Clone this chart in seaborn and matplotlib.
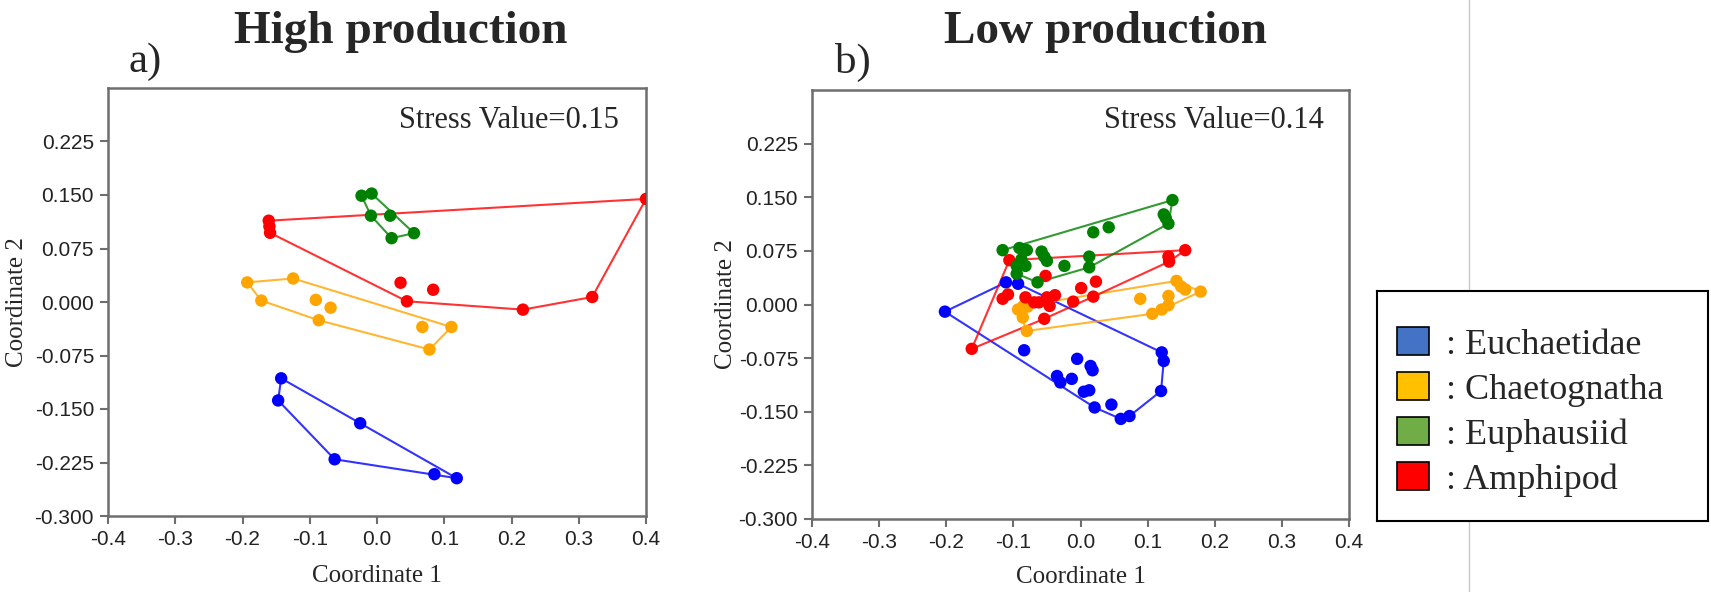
import numpy as np
import pandas as pd
import matplotlib
matplotlib.use("Agg")
import matplotlib.pyplot as plt
from matplotlib.patches import Patch
from matplotlib.lines import Line2D
import seaborn as sns

# ---------------- data ----------------
groups = ["Euchaetidae", "Chaetognatha", "Amphipod", "Euphausiid"]
legend_order = ["Euchaetidae", "Chaetognatha", "Euphausiid", "Amphipod"]
point_colors = {"Euchaetidae": "#0000FF", "Chaetognatha": "#FFA500",
                "Euphausiid": "#008000", "Amphipod": "#FF0000"}
legend_colors = {"Euchaetidae": "#4472C4", "Chaetognatha": "#FFC000",
                 "Euphausiid": "#70AD47", "Amphipod": "#FF0000"}

# High production (panel a)
hi_euch_x = [-0.1425, -0.147, -0.025, -0.063, 0.0853, 0.1186]
hi_euch_y = [-0.107, -0.138, -0.170, -0.2205, -0.2414, -0.247]
hi_chae_x = [-0.193, -0.1247, -0.172, -0.091, -0.069, -0.0866, 0.0674, 0.1106, 0.078]
hi_chae_y = [0.0275, 0.033, 0.002, 0.003, -0.008, -0.0256, -0.035, -0.035, -0.0666]
hi_euph_x = [-0.023, -0.008, -0.009, 0.0196, 0.055, 0.0217]
hi_euph_y = [0.149, 0.152, 0.121, 0.121, 0.0965, 0.0895]
hi_amph_x = [-0.161, -0.160, -0.159, 0.400, 0.320, 0.217, 0.0445, 0.035, 0.0835]
hi_amph_y = [0.114, 0.106, 0.097, 0.1445, 0.007, -0.0107, 0.001, 0.027, 0.0172]

# Low production (panel b)
lo_euch_x = [-0.202, -0.111, -0.093, -0.084, -0.005, 0.015, 0.018, -0.035, -0.030, -0.013,
             0.005, 0.013, 0.021, 0.046, 0.060, 0.073, 0.120, 0.124, 0.121]
lo_euch_y = [-0.010, 0.031, 0.029, -0.064, -0.076, -0.086, -0.092, -0.100, -0.109, -0.104,
             -0.122, -0.120, -0.144, -0.140, -0.160, -0.156, -0.121, -0.079, -0.067]
lo_chae_x = [-0.093, -0.085, -0.079, -0.086, -0.080, 0.089, 0.107, 0.121, 0.131, 0.131,
             0.143, 0.150, 0.156, 0.179]
lo_chae_y = [-0.007, -0.002, -0.003, -0.018, -0.037, 0.008, -0.013, -0.007, -0.001, 0.012,
             0.033, 0.025, 0.021, 0.018]
lo_amph_x = [-0.106, -0.162, 0.156, 0.131, 0.132, -0.116, -0.108, -0.082, -0.069, -0.062,
             -0.052, -0.050, -0.038, -0.046, -0.054, -0.011, 0.001, 0.023, 0.019]
lo_amph_y = [0.062, -0.062, 0.076, 0.067, 0.060, 0.008, 0.014, 0.010, 0.003, 0.003,
             0.040, 0.010, 0.013, -0.002, -0.020, 0.004, 0.023, 0.032, 0.011]
lo_euph_x = [-0.116, -0.091, -0.085, -0.080, -0.088, -0.095, -0.082, -0.095, -0.064, -0.058,
             -0.054, -0.050, -0.024, 0.013, 0.013, 0.019, 0.042, 0.124, 0.127, 0.131, 0.137]
lo_euph_y = [0.076, 0.079, 0.077, 0.076, 0.063, 0.054, 0.054, 0.043, 0.031, 0.074,
             0.067, 0.061, 0.054, 0.067, 0.052, 0.101, 0.108, 0.126, 0.121, 0.113, 0.146]

x_ticks = [-0.4, -0.3, -0.2, -0.1, 0.0, 0.1, 0.2, 0.3, 0.4]
y_ticks = [-0.300, -0.225, -0.150, -0.075, 0.000, 0.075, 0.150, 0.225]
panel_titles = ["High production", "Low production"]
panel_letters = ["a)", "b)"]
stress_values = [0.15, 0.14]


def frame(parts):
    rows = []
    for g, xs, ys in parts:
        for x, y in zip(xs, ys):
            rows.append({"x": x, "y": y, "group": g})
    return pd.DataFrame(rows)


high_df = frame([("Euchaetidae", hi_euch_x, hi_euch_y), ("Chaetognatha", hi_chae_x, hi_chae_y),
                 ("Amphipod", hi_amph_x, hi_amph_y), ("Euphausiid", hi_euph_x, hi_euph_y)])
low_df = frame([("Euchaetidae", lo_euch_x, lo_euch_y), ("Chaetognatha", lo_chae_x, lo_chae_y),
                ("Amphipod", lo_amph_x, lo_amph_y), ("Euphausiid", lo_euph_x, lo_euph_y)])


def convex_hull(pts):
    pts = sorted(set(pts))
    if len(pts) <= 2:
        return pts

    def cross(o, a, b):
        return (a[0] - o[0]) * (b[1] - o[1]) - (a[1] - o[1]) * (b[0] - o[0])
    lower, upper = [], []
    for p in pts:
        while len(lower) >= 2 and cross(lower[-2], lower[-1], p) <= 0:
            lower.pop()
        lower.append(p)
    for p in reversed(pts):
        while len(upper) >= 2 and cross(upper[-2], upper[-1], p) <= 0:
            upper.pop()
        upper.append(p)
    return lower[:-1] + upper[:-1]


# ---------------- style ----------------
sns.set_style("ticks")
tick_font = "Liberation Sans"
serif = "Liberation Serif"
plt.rcParams["font.family"] = [serif, "DejaVu Sans"]

fig = plt.figure(figsize=(17.11, 5.92), dpi=100)
fig.patch.set_facecolor("white")

positions = [[108 / 1711, 76 / 592, 538 / 1711, 428 / 592],
             [812 / 1711, 73 / 592, 537 / 1711, 429 / 592]]
title_x = [401 / 1711, 1105 / 1711]
letter_x = [129 / 1711, 835 / 1711]
stress_x = [619 / 1711, 1324 / 1711]
xlabel_y = [-0.115, -0.109]
ylabel_x = [-0.149, -0.140]

for i, df in enumerate([high_df, low_df]):
    ax = fig.add_axes(positions[i])
    for g in groups:
        sub = df[df["group"] == g]
        hull = convex_hull(list(zip(sub["x"], sub["y"])))
        hull = hull + [hull[0]]
        ax.plot([p[0] for p in hull], [p[1] for p in hull], color=point_colors[g],
                lw=1.5, alpha=0.8, zorder=2)
    sns.scatterplot(data=df, x="x", y="y", hue="group", palette=point_colors,
                    hue_order=groups, s=80, edgecolor="none", legend=False, ax=ax, zorder=3)
    ax.set_xlim(-0.4, 0.4)
    ax.set_ylim(-0.3, 0.3)
    ax.set_xticks(x_ticks)
    ax.set_xticklabels([f"{v:.1f}" for v in x_ticks])
    ax.set_yticks(y_ticks)
    ax.set_yticklabels([f"{v:.3f}" for v in y_ticks])
    ax.tick_params(axis="both", direction="out", length=6, width=1.5, color="#6e6e6e",
                   labelsize=15, pad=4, labelcolor="#222222")
    for lab in ax.get_xticklabels() + ax.get_yticklabels():
        lab.set_fontfamily(tick_font)
    for sp in ax.spines.values():
        sp.set_visible(True)
        sp.set_color("#6e6e6e")
        sp.set_linewidth(1.8)
    ax.set_xlabel("Coordinate 1", fontfamily=serif, fontsize=18)
    ax.set_ylabel("Coordinate 2", fontfamily=serif, fontsize=18)
    ax.xaxis.set_label_coords(0.5, xlabel_y[i])
    ax.yaxis.set_label_coords(ylabel_x[i], 0.5)
    ax.text(stress_x[i], 1 - 121 / 592, f"Stress Value={stress_values[i]:.2f}",
            transform=fig.transFigure, ha="right", va="center", fontsize=22, fontfamily=serif)
    fig.text(title_x[i], 1 - 32 / 592, panel_titles[i], ha="center", va="center",
             fontsize=34, fontweight="bold", fontfamily=serif)
    fig.text(letter_x[i], 1 - 62 / 592, panel_letters[i], ha="left", va="center",
             fontsize=31, fontfamily=serif)

# legend box
lax = fig.add_axes([1377 / 1711, 71 / 592, 331 / 1711, 230 / 592])
lax.set_xticks([])
lax.set_yticks([])
for sp in lax.spines.values():
    sp.set_visible(True)
    sp.set_color("black")
    sp.set_linewidth(1.5)
handles = [Patch(facecolor=legend_colors[g], edgecolor="black", linewidth=1.2) for g in legend_order]
labels = [f": {g}" for g in legend_order]
lax.legend(handles, labels, loc="upper left", bbox_to_anchor=(0.06, 0.845), frameon=False,
           prop={"family": serif, "size": 26}, handlelength=0.9, handleheight=0.85,
           handletextpad=0.45, labelspacing=0.28, borderpad=0, borderaxespad=0)

# thin vertical separator line
fig.add_artist(Line2D([1469 / 1711, 1469 / 1711], [0, 1], transform=fig.transFigure,
                      color="#c8c8c8", lw=1, zorder=0))

fig.savefig("out.png", dpi=100, facecolor="white")
